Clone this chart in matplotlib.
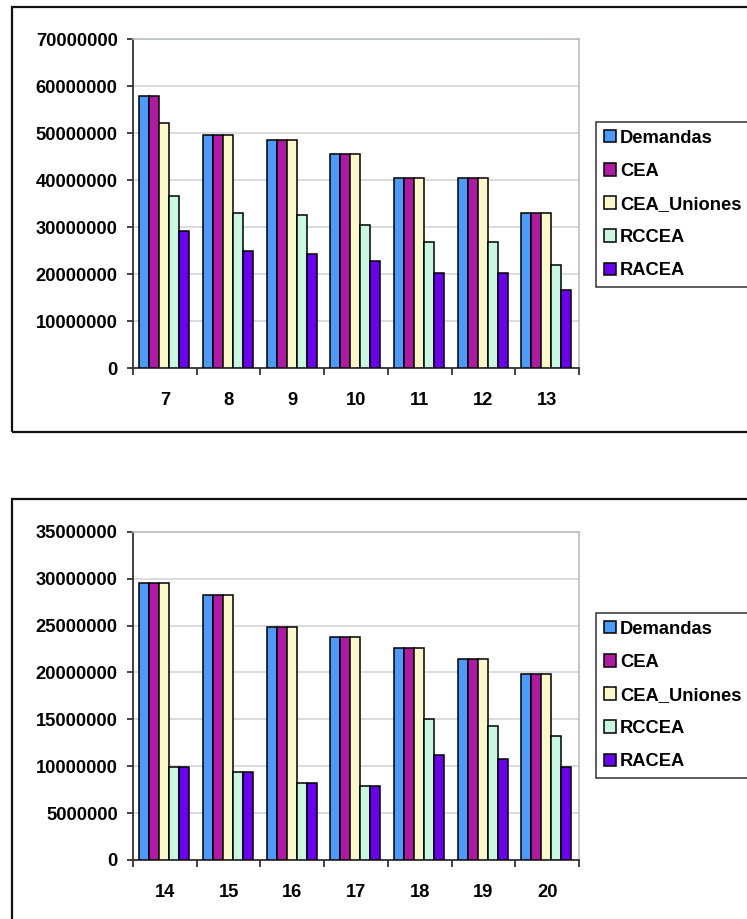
import matplotlib
matplotlib.use("Agg")
import matplotlib.pyplot as plt
from matplotlib.patches import Rectangle
import numpy as np

plt.rcParams['font.family'] = ['Liberation Sans', 'DejaVu Sans']
plt.rcParams['font.weight'] = 'bold'

series_names = ["Demandas", "CEA", "CEA_Uniones", "RCCEA", "RACEA"]
series_colors = ["#4A9BFA", "#B01AA2", "#FBF9CA", "#C8F8DF", "#6A00EE"]

# first chart: sizes 7..13
cats_top = ["7", "8", "9", "10", "11", "12", "13"]
demandas_top = [57900000, 49600000, 48500000, 45600000, 40400000, 40400000, 33000000]
cea_top = [57900000, 49600000, 48500000, 45600000, 40400000, 40400000, 33000000]
cea_uniones_top = [52200000, 49600000, 48500000, 45600000, 40400000, 40400000, 33000000]
rccea_top = [36700000, 33000000, 32500000, 30400000, 26800000, 26800000, 21900000]
racea_top = [29100000, 24800000, 24200000, 22800000, 20200000, 20200000, 16600000]
yticks_top = [0, 10000000, 20000000, 30000000, 40000000, 50000000, 60000000, 70000000]

# second chart: sizes 14..20
cats_bot = ["14", "15", "16", "17", "18", "19", "20"]
demandas_bot = [29500000, 28200000, 24800000, 23800000, 22600000, 21400000, 19800000]
cea_bot = [29500000, 28200000, 24800000, 23800000, 22600000, 21400000, 19800000]
cea_uniones_bot = [29500000, 28200000, 24800000, 23800000, 22600000, 21400000, 19800000]
rccea_bot = [9900000, 9400000, 8250000, 7900000, 15000000, 14300000, 13200000]
racea_bot = [9900000, 9400000, 8250000, 7900000, 11200000, 10800000, 9900000]
yticks_bot = [0, 5000000, 10000000, 15000000, 20000000, 25000000, 30000000, 35000000]

W, H = 747, 919
fig = plt.figure(figsize=(W / 100, H / 100), dpi=100)

FS = 13.2


def draw_panel(frame_top, frame_bottom, ax_top, ax_bottom, legend_top, cats, data, yticks):
    # outer chart frame
    fig.patches.append(Rectangle((12 / W, 1 - frame_bottom / H),
                                 (W + 20 - 12) / W, (frame_bottom - frame_top) / H,
                                 transform=fig.transFigure, fill=False,
                                 edgecolor="#111111", linewidth=1.6, zorder=0))
    ax = fig.add_axes([133 / W, 1 - ax_bottom / H, 446 / W, (ax_bottom - ax_top) / H])
    n = len(cats)
    x = np.arange(n)
    bw = 0.157
    offsets = (np.arange(5) - 2) * bw
    handles = []
    for i, vals in enumerate(data):
        h = ax.bar(x + offsets[i] - 0.012, vals, width=bw, color=series_colors[i],
                   edgecolor="black", linewidth=1.1, zorder=3)
        handles.append(h)
    ax.set_xlim(-0.5, n - 0.5)
    ax.set_ylim(yticks[0], yticks[-1])
    ax.set_yticks(yticks)
    ax.set_yticklabels([str(v) for v in yticks], fontsize=FS, fontweight='bold')
    ax.set_xticks(x)
    ax.set_xticklabels(cats, fontsize=FS, fontweight='bold')
    ax.set_xticks(np.arange(n + 1) - 0.5, minor=True)
    ax.tick_params(axis='x', which='major', length=0, pad=17)
    ax.tick_params(axis='x', which='minor', length=5, width=1.2, direction='out', color="#222222")
    ax.tick_params(axis='y', which='major', length=4, width=1.2, pad=7, color="#222222")
    ax.grid(axis='y', color="#DADDDD", linewidth=1.4, zorder=0)
    ax.set_axisbelow(True)
    for s in ("left", "bottom"):
        ax.spines[s].set_color("#333333")
        ax.spines[s].set_linewidth(1.3)
    for s in ("top", "right"):
        ax.spines[s].set_color("#B8BEBE")
        ax.spines[s].set_linewidth(1.2)
    leg = fig.legend(handles, series_names, loc='upper left',
                     bbox_to_anchor=(596 / W, 1 - legend_top / H),
                     fontsize=FS, frameon=True, fancybox=False,
                     edgecolor="#333333", framealpha=1, borderpad=0.42,
                     handlelength=0.66, handleheight=0.66, handletextpad=0.22,
                     labelspacing=0.88, borderaxespad=0)
    leg.get_frame().set_linewidth(1.1)
    for t in leg.get_texts():
        t.set_fontweight('bold')
    return ax


draw_panel(7, 432, 39, 368, 122, cats_top,
           [demandas_top, cea_top, cea_uniones_top, rccea_top, racea_top], yticks_top)
draw_panel(499, 940, 531.7, 860, 613, cats_bot,
           [demandas_bot, cea_bot, cea_uniones_bot, rccea_bot, racea_bot], yticks_bot)

fig.savefig("out.png", dpi=100)
